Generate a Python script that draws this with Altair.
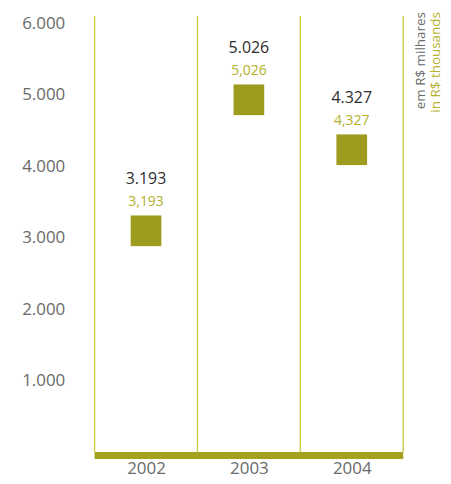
import altair as alt
import pandas as pd

years = ["2002", "2003", "2004"]
values = [3193, 5026, 4327]
labels_pt = ["3.193", "5.026", "4.327"]
labels_en = ["3,193", "5,026", "4,327"]
title_pt = "em R$ milhares"
title_en = "in R$ thousands"

df = pd.DataFrame({
    "year": years,
    "pos": [i + 0.5 for i in range(len(years))],
    "value": values,
    "pt": labels_pt,
    "en": labels_en,
})
bounds = pd.DataFrame({"b": list(range(len(years) + 1))})

FONT = "Open Sans"
OLIVE = "#9e9c1f"
LINE = "#cccc3a"
TXT_OLIVE = "#b3b12a"
GREY = "#6a6a6a"

W, H = 310, 438
xs = alt.Scale(domain=[0, len(years)], nice=False, zero=False)
ys = alt.Scale(domain=[0, 6100], nice=False)

label_expr = "datum.value == 0.5 ? '2002' : datum.value == 1.5 ? '2003' : '2004'"

base = alt.Chart(df)

squares = base.mark_square(size=950, color=OLIVE, opacity=1, yOffset=7).encode(
    x=alt.X("pos:Q", scale=xs,
            axis=alt.Axis(values=[0.5, 1.5, 2.5], labelExpr=label_expr, title=None,
                          ticks=False, domain=False, grid=False, labelFont=FONT,
                          labelFontSize=17, labelColor=GREY, labelPadding=9)),
    y=alt.Y("value:Q", scale=ys,
            axis=alt.Axis(values=[1000, 2000, 3000, 4000, 5000, 6000],
                          labelExpr="replace(format(datum.value, ','), ',', '.')",
                          title=None, ticks=False, domain=False, grid=False,
                          labelFont=FONT, labelFontSize=17, labelColor=GREY,
                          labelPadding=30)),
)

txt_pt = base.mark_text(font=FONT, fontSize=16, color="#2e2e2e", dy=-45,
                        baseline="middle").encode(x="pos:Q", y="value:Q", text="pt:N")
txt_en = base.mark_text(font=FONT, fontSize=14, color=TXT_OLIVE, dy=-22,
                        baseline="middle").encode(x="pos:Q", y="value:Q", text="en:N")

vlines = alt.Chart(bounds).mark_rule(color=LINE, strokeWidth=1.3).encode(
    x=alt.X("b:Q", scale=xs), y=alt.value(0), y2=alt.value(H))

bottom = alt.Chart(pd.DataFrame({"a": [0], "b": [len(years)], "y": [0]})).mark_rule(
    color="#a3a11e", strokeWidth=7, yOffset=3.5).encode(
    x=alt.X("a:Q", scale=xs), x2="b:Q", y=alt.Y("y:Q", scale=ys))

t1 = alt.Chart(pd.DataFrame({"t": [title_pt]})).mark_text(
    font=FONT, fontSize=13.5, color=GREY, angle=270, align="right", baseline="middle"
).encode(x=alt.value(W + 18), y=alt.value(-4), text="t:N")
t2 = alt.Chart(pd.DataFrame({"t": [title_en]})).mark_text(
    font=FONT, fontSize=13.5, color=TXT_OLIVE, angle=270, align="right", baseline="middle"
).encode(x=alt.value(W + 33), y=alt.value(-4), text="t:N")

chart = alt.layer(vlines, bottom, squares, txt_pt, txt_en, t1, t2).properties(
    width=W, height=H,
    autosize=alt.AutoSizeParams(type="none"),
    padding={"left": 87, "top": 7, "right": 40, "bottom": 30},
).configure_view(stroke=None)

chart.save("out.html", embed_options={"renderer": "svg", "actions": False})
